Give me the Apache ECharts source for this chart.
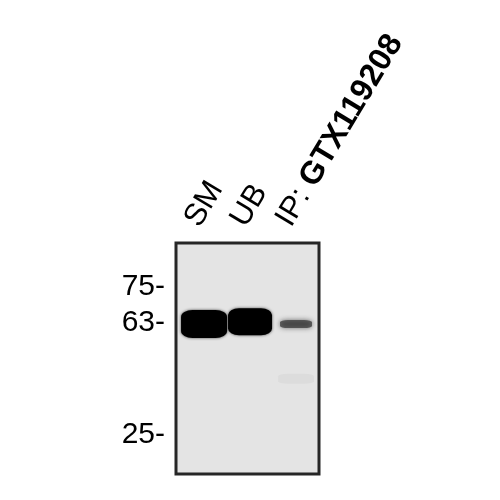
<!DOCTYPE html>
<html>
<head>
<meta charset="utf-8">
<script src="https://cdn.jsdelivr.net/npm/echarts@6/dist/echarts.min.js"></script>
<style>html,body{margin:0;padding:0;background:#fff;}#c{width:500px;height:500px;}</style>
</head>
<body>
<div id="c"></div>
<script>
// ---- data ----
const lanes = ['SM', 'UB', 'IP: GTX119208'];
const laneIndex = [0, 1, 2];
const markerKDa = [75, 63, 25];
const bandKDa = [62.5, 63.3, 62.5];
const bandIntensity = [1, 1, 0.7];
const faintKDa = [44];
const faintLane = [2];

// ---- chart ----
const labelShift = 0.03;
const labelPos = laneIndex.map(i => i + labelShift);
const FONT = '"Liberation Sans", Arial, Helvetica, sans-serif';

const bandLook = [
  { size: [46, 28], color: '#000' },
  { size: [44, 27], color: '#000' },
  { size: [32, 8], color: '#333' }
];

const chart = echarts.init(document.getElementById('c'), null, { renderer: 'canvas' });
chart.setOption({
  animation: false,
  backgroundColor: '#fff',
  grid: {
    left: 176, right: 181, top: 243, bottom: 26,
    show: true, borderColor: '#262626', borderWidth: 3,
    backgroundColor: '#e4e4e4'
  },
  xAxis: {
    type: 'value', position: 'top', min: -0.61, max: 2.5,
    axisLine: { show: false }, axisTick: { show: false }, splitLine: { show: false },
    axisLabel: {
      customValues: labelPos,
      rotate: -59, align: 'left', verticalAlign: 'bottom', margin: 11,
      fontFamily: FONT, fontSize: 32, color: '#000',
      formatter: function (v) {
        const i = labelPos.findIndex(p => Math.abs(p - v) < 1e-6);
        const name = lanes[i] || '';
        const k = name.indexOf(': ');
        if (k >= 0) return '{r|' + name.slice(0, k + 2) + '}{b|' + name.slice(k + 2) + '}';
        return '{r|' + name + '}';
      },
      rich: {
        r: { fontFamily: FONT, fontSize: 31, color: '#000', fontWeight: 'normal' },
        b: { fontFamily: FONT, fontSize: 32, color: '#000', fontWeight: 'bold' }
      }
    }
  },
  yAxis: {
    type: 'value', min: 11.8, max: 89.9,
    axisLine: { show: false }, axisTick: { show: false }, splitLine: { show: false },
    axisLabel: {
      customValues: markerKDa, formatter: '{value}-', margin: 11,
      fontFamily: FONT, fontSize: 30, color: '#000'
    }
  },
  series: [
    {
      type: 'scatter', silent: true, z: 3,
      data: laneIndex.map(i => ({
        value: [i, bandKDa[i]],
        symbol: 'roundRect',
        symbolSize: bandLook[i].size,
        itemStyle: {
          color: bandLook[i].color, opacity: bandIntensity[i],
          shadowBlur: i === 2 ? 5 : 3, shadowColor: i === 2 ? 'rgba(40,40,40,0.9)' : 'rgba(0,0,0,0.7)'
        }
      }))
    },
    {
      type: 'scatter', silent: true, z: 2,
      data: faintKDa.map((k, j) => ({
        value: [faintLane[j], k],
        symbol: 'roundRect', symbolSize: [36, 10],
        itemStyle: { color: 'rgba(0,0,0,0.04)', shadowBlur: 8, shadowColor: 'rgba(0,0,0,0.05)' }
      }))
    }
  ]
});
</script>
</body>
</html>
